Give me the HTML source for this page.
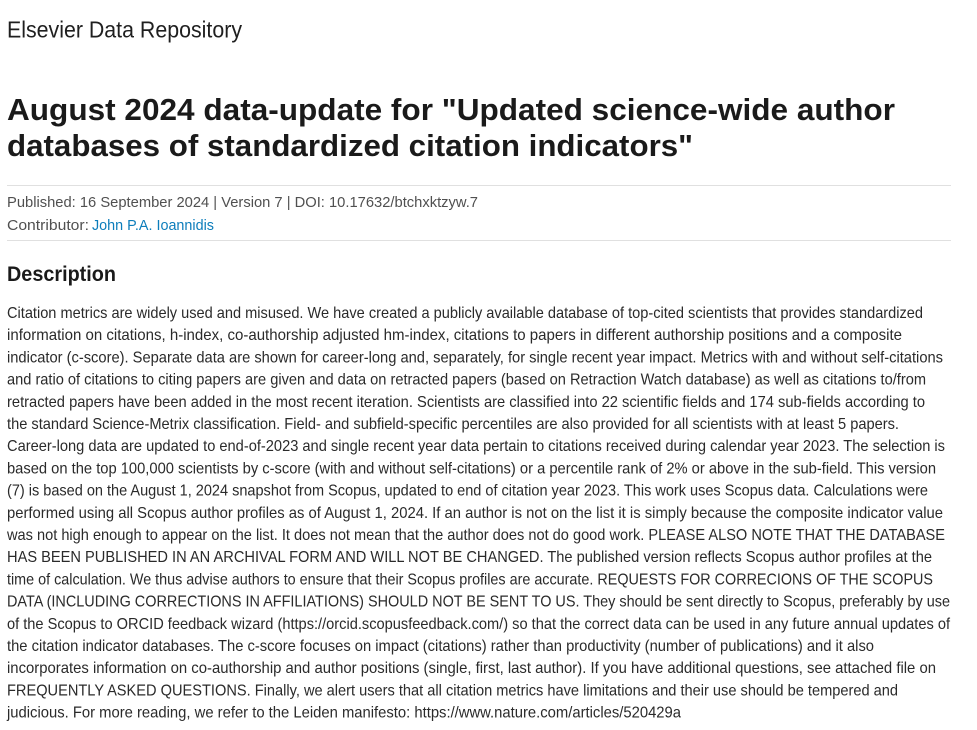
<!DOCTYPE html>
<html><head><meta charset="utf-8">
<style>
html,body{margin:0;padding:0;background:#fff;}
svg{display:block;}
text{font-family:"Liberation Sans",sans-serif;}
.b{font-size:16px;fill:#2a2a2a;}
</style></head>
<body>
<svg width="977" height="730" viewBox="0 0 977 730" xmlns="http://www.w3.org/2000/svg">
<rect width="977" height="730" fill="#fff"/>
<text x="7" y="37.5" font-size="23.5" fill="#1f1f1f" textLength="235" lengthAdjust="spacingAndGlyphs">Elsevier Data Repository</text>
<text x="7" y="120" font-size="30.5" font-weight="bold" fill="#1a1a1a" textLength="888" lengthAdjust="spacingAndGlyphs">August 2024 data-update for "Updated science-wide author</text>
<text x="7" y="156" font-size="30.5" font-weight="bold" fill="#1a1a1a" textLength="686" lengthAdjust="spacingAndGlyphs">databases of standardized citation indicators"</text>
<rect x="7" y="185" width="944" height="1" fill="#e0e0e0"/>
<text x="7" y="207" font-size="15" fill="#505050" textLength="471" lengthAdjust="spacingAndGlyphs">Published: 16 September 2024 | Version 7 | DOI: 10.17632/btchxktzyw.7</text>
<text x="7" y="230" font-size="15" fill="#505050" textLength="82" lengthAdjust="spacingAndGlyphs">Contributor:</text>
<text x="92" y="230" font-size="15" fill="#0c7dbb" textLength="122" lengthAdjust="spacingAndGlyphs">John P.A. Ioannidis</text>
<rect x="7" y="240" width="944" height="1" fill="#e0e0e0"/>
<text x="7" y="281" font-size="21.5" font-weight="bold" fill="#1a1a1a" textLength="109" lengthAdjust="spacingAndGlyphs">Description</text>
<g class="b">
<text x="7" y="318" textLength="916" lengthAdjust="spacingAndGlyphs">Citation metrics are widely used and misused. We have created a publicly available database of top-cited scientists that provides standardized</text>
<text x="7" y="340.2" textLength="895" lengthAdjust="spacingAndGlyphs">information on citations, h-index, co-authorship adjusted hm-index, citations to papers in different authorship positions and a composite</text>
<text x="7" y="362.4" textLength="936" lengthAdjust="spacingAndGlyphs">indicator (c-score). Separate data are shown for career-long and, separately, for single recent year impact. Metrics with and without self-citations</text>
<text x="7" y="384.6" textLength="919" lengthAdjust="spacingAndGlyphs">and ratio of citations to citing papers are given and data on retracted papers (based on Retraction Watch database) as well as citations to/from</text>
<text x="7" y="406.8" textLength="918" lengthAdjust="spacingAndGlyphs">retracted papers have been added in the most recent iteration. Scientists are classified into 22 scientific fields and 174 sub-fields according to</text>
<text x="7" y="429" textLength="892" lengthAdjust="spacingAndGlyphs">the standard Science-Metrix classification. Field- and subfield-specific percentiles are also provided for all scientists with at least 5 papers.</text>
<text x="7" y="451.2" textLength="938" lengthAdjust="spacingAndGlyphs">Career-long data are updated to end-of-2023 and single recent year data pertain to citations received during calendar year 2023. The selection is</text>
<text x="7" y="473.4" textLength="929" lengthAdjust="spacingAndGlyphs">based on the top 100,000 scientists by c-score (with and without self-citations) or a percentile rank of 2% or above in the sub-field. This version</text>
<text x="7" y="495.6" textLength="921" lengthAdjust="spacingAndGlyphs">(7) is based on the August 1, 2024 snapshot from Scopus, updated to end of citation year 2023. This work uses Scopus data. Calculations were</text>
<text x="7" y="517.8" textLength="936" lengthAdjust="spacingAndGlyphs">performed using all Scopus author profiles as of August 1, 2024. If an author is not on the list it is simply because the composite indicator value</text>
<text x="7" y="540" textLength="938" lengthAdjust="spacingAndGlyphs">was not high enough to appear on the list. It does not mean that the author does not do good work. PLEASE ALSO NOTE THAT THE DATABASE</text>
<text x="7" y="562.2" textLength="925" lengthAdjust="spacingAndGlyphs">HAS BEEN PUBLISHED IN AN ARCHIVAL FORM AND WILL NOT BE CHANGED. The published version reflects Scopus author profiles at the</text>
<text x="7" y="584.4" textLength="926" lengthAdjust="spacingAndGlyphs">time of calculation. We thus advise authors to ensure that their Scopus profiles are accurate. REQUESTS FOR CORRECIONS OF THE SCOPUS</text>
<text x="7" y="606.6" textLength="943" lengthAdjust="spacingAndGlyphs">DATA (INCLUDING CORRECTIONS IN AFFILIATIONS) SHOULD NOT BE SENT TO US. They should be sent directly to Scopus, preferably by use</text>
<text x="7" y="628.8" textLength="943" lengthAdjust="spacingAndGlyphs">of the Scopus to ORCID feedback wizard (https://orcid.scopusfeedback.com/) so that the correct data can be used in any future annual updates of</text>
<text x="7" y="651" textLength="867" lengthAdjust="spacingAndGlyphs">the citation indicator databases. The c-score focuses on impact (citations) rather than productivity (number of publications) and it also</text>
<text x="7" y="673.2" textLength="929" lengthAdjust="spacingAndGlyphs">incorporates information on co-authorship and author positions (single, first, last author). If you have additional questions, see attached file on</text>
<text x="7" y="695.4" textLength="891" lengthAdjust="spacingAndGlyphs">FREQUENTLY ASKED QUESTIONS. Finally, we alert users that all citation metrics have limitations and their use should be tempered and</text>
<text x="7" y="717.6" textLength="674" lengthAdjust="spacingAndGlyphs">judicious. For more reading, we refer to the Leiden manifesto: https://www.nature.com/articles/520429a</text>
</g>
</svg>
</body></html>
